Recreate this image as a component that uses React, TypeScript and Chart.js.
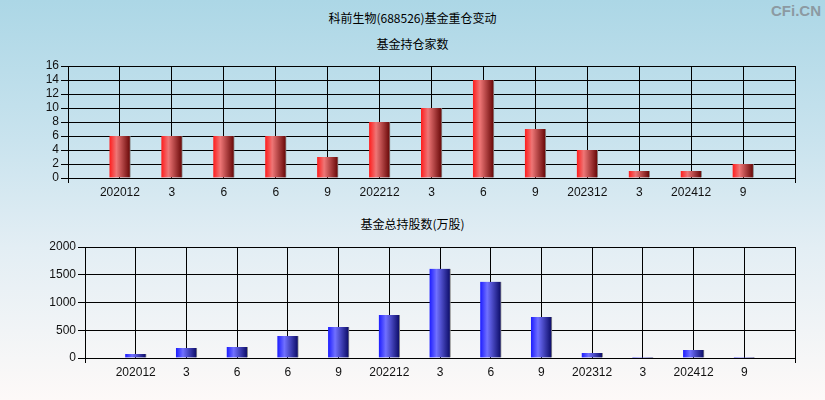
import React, { useEffect, useRef } from 'react';
import { Chart, registerables } from 'chart.js';

Chart.register(...registerables);

const categories = ['202012', '3', '6', '6', '9', '202212', '3', '6', '9', '202312', '3', '202412', '9'];
const fundCounts = [6, 6, 6, 6, 3, 8, 10, 14, 7, 4, 1, 1, 2];
const fundShares = [72, 181, 199, 397, 560, 777, 1607, 1373, 740, 90, 18, 144, 18];
const countAxis = { min: 0, max: 16, step: 2 };
const shareAxis = { min: 0, max: 2000, step: 500 };

const mainTitle = '科前生物(688526)基金重仓变动';
const topTitle = '基金持仓家数';
const bottomTitle = '基金总持股数(万股)';

const paddedLabels = ['', ...categories, ''];

type Cfg = {
  values: number[];
  axis: { min: number; max: number; step: number };
  stops: [number, string][];
  top: number;
  yWidth: number;
  xHeight: number;
};

function makeChart(canvas: HTMLCanvasElement, cfg: Cfg) {
  const data = [null, ...cfg.values, null];
  const lastIdx = paddedLabels.length - 1;
  return new Chart(canvas, {
    type: 'bar',
    data: {
      labels: paddedLabels,
      datasets: [
        {
          data: data as any,
          barThickness: 21,
          borderWidth: { top: 0, left: 0, bottom: 0, right: 1 },
          borderColor: '#8a8a8a',
          borderSkipped: false,
          backgroundColor: (ctx: any) => {
            const chart = ctx.chart;
            const xs = chart.scales && chart.scales.x;
            if (!xs || ctx.dataIndex == null) return cfg.stops[1][1];
            const x = xs.getPixelForValue(ctx.dataIndex);
            if (!isFinite(x)) return cfg.stops[1][1];
            const g = chart.ctx.createLinearGradient(x - 10.5, 0, x + 9.5, 0);
            cfg.stops.forEach(([o, c]) => g.addColorStop(o, c));
            return g;
          },
        },
      ],
    },
    options: {
      responsive: false,
      animation: false,
      events: [],
      layout: { padding: { left: 0, right: 30, top: cfg.top, bottom: 0 } },
      plugins: { legend: { display: false }, tooltip: { enabled: false }, title: { display: false } },
      scales: {
        x: {
          type: 'category',
          offset: false,
          grid: {
            offset: false,
            color: '#000',
            lineWidth: 1,
            drawTicks: true,
            tickLength: 5,
            tickColor: (ctx: any) => (ctx.index === 0 || ctx.index === lastIdx ? '#000' : 'rgba(0,0,0,0)'),
          },
          border: { display: true, color: '#000' },
          ticks: {
            autoSkip: false,
            maxRotation: 0,
            minRotation: 0,
            padding: 2,
            color: '#111',
            font: { family: 'Liberation Sans, Arial, sans-serif', size: 12 },
          },
          afterFit: (scale: any) => {
            scale.height = cfg.xHeight;
          },
        },
        y: {
          min: cfg.axis.min,
          max: cfg.axis.max,
          grid: { color: '#000', lineWidth: 1, drawTicks: true, tickLength: 7, tickColor: '#000' },
          border: { display: true, color: '#000' },
          ticks: {
            stepSize: cfg.axis.step,
            autoSkip: false,
            maxTicksLimit: 100,
            padding: 2,
            color: '#111',
            font: { family: 'Liberation Sans, Arial, sans-serif', size: 12 },
            callback: (v: any) => String(v),
          },
          afterFit: (scale: any) => {
            scale.width = cfg.yWidth;
          },
        },
      },
    },
  });
}

export default function App() {
  const topRef = useRef<HTMLCanvasElement>(null);
  const bottomRef = useRef<HTMLCanvasElement>(null);

  useEffect(() => {
    const c1 = makeChart(topRef.current!, {
      values: fundCounts,
      axis: countAxis,
      stops: [
        [0, '#ff1c1c'],
        [0.35, '#ee7676'],
        [1, '#6e0c0c'],
      ],
      top: 66,
      yWidth: 68,
      xHeight: 22,
    });
    const c2 = makeChart(bottomRef.current!, {
      values: fundShares,
      axis: shareAxis,
      stops: [
        [0, '#1c1cff'],
        [0.35, '#7070ff'],
        [1, '#10106e'],
      ],
      top: 47,
      yWidth: 85,
      xHeight: 42,
    });
    return () => {
      c1.destroy();
      c2.destroy();
    };
  }, []);

  const titleStyle: React.CSSProperties = {
    position: 'absolute',
    left: 0,
    width: 825,
    textAlign: 'center',
    fontFamily: '"Noto Sans CJK SC", sans-serif',
    fontSize: 12,
    lineHeight: '16px',
    color: '#000',
  };

  return (
    <div
      style={{
        position: 'absolute',
        left: 0,
        top: 0,
        width: 825,
        height: 400,
        overflow: 'hidden',
        background: 'linear-gradient(to bottom, #acd7e6 0%, #c9e3ee 35%, #e3eef4 62%, #fdf9f8 100%)',
      }}
    >
      <div style={{ ...titleStyle, top: 10 }}>{mainTitle}</div>
      <div style={{ ...titleStyle, top: 36 }}>{topTitle}</div>
      <div style={{ ...titleStyle, top: 216 }}>{bottomTitle}</div>
      <div
        style={{
          position: 'absolute',
          right: 4,
          top: 2,
          fontFamily: '"Liberation Sans", Arial, sans-serif',
          fontWeight: 'bold',
          fontSize: 15,
          color: '#8c9aa2',
        }}
      >
        CFi.CN
      </div>
      <canvas ref={topRef} width={825} height={200} style={{ position: 'absolute', left: 0, top: 0 }} />
      <canvas ref={bottomRef} width={825} height={200} style={{ position: 'absolute', left: 0, top: 200 }} />
    </div>
  );
}
